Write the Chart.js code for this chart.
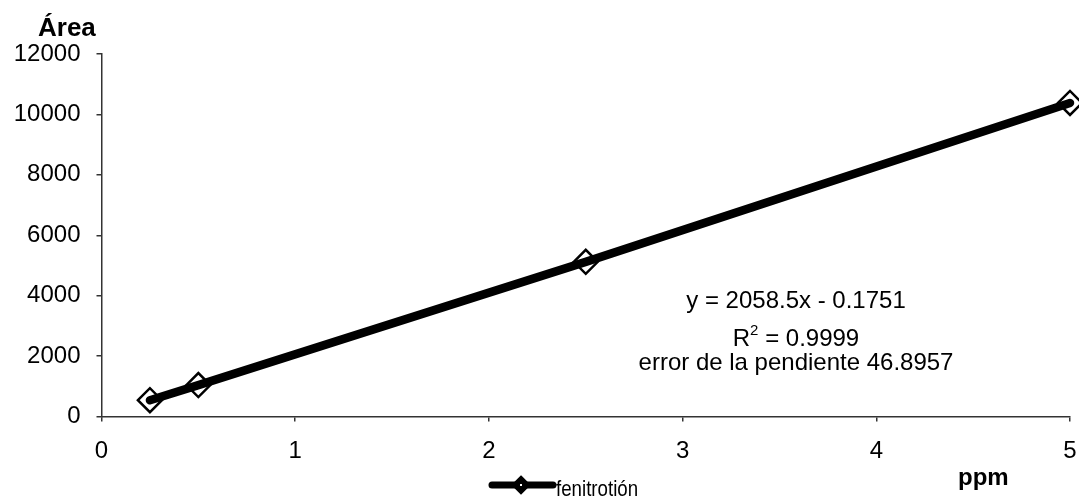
<!DOCTYPE html>
<html>
<head>
<meta charset="utf-8">
<script src="https://cdn.jsdelivr.net/npm/chart.js@4/dist/chart.umd.min.js"></script>
<style>
  html, body { margin: 0; padding: 0; background: #fff; }
  #wrap { width: 1079px; height: 501px; }
</style>
</head>
<body>
<div id="wrap"><canvas id="c" width="1079" height="501"></canvas></div>
<script>
// Calibration data: fenitrothion concentration (ppm) vs. peak area
const seriesName = 'fenitrotión';
const concentrations = [0.25, 0.5, 2.5, 5];
const areas = [540, 1040, 5120, 10380];

// Axis ranges and labels
const xTitle = 'ppm';
const yTitle = 'Área';
const xMin = 0, xMax = 5, xStep = 1;
const yMin = 0, yMax = 12000, yStep = 2000;

// Regression summary text
const fitEquation = 'y = 2058.5x - 0.1751';
const fitR2Value = ' = 0.9999';
const slopeErrorText = 'error de la pendiente 46.8957';

const FONT = "'Liberation Sans', Arial, sans-serif";

const points = concentrations.map((x, i) => ({ x: x, y: areas[i] }));

// Titles, regression box and legend drawn on top of the plot
const overlay = {
  id: 'overlay',
  afterDraw(chart) {
    const ctx = chart.ctx;
    ctx.save();
    ctx.fillStyle = '#000';
    ctx.textBaseline = 'alphabetic';

    // axis titles
    ctx.font = 'bold 26px ' + FONT;
    ctx.textAlign = 'left';
    ctx.fillText(yTitle, 38, 36);
    ctx.font = 'bold 24px ' + FONT;
    ctx.fillText(xTitle, 958, 485);

    // regression annotation
    const cx = 796;
    ctx.font = '24px ' + FONT;
    ctx.textAlign = 'center';
    ctx.fillText(fitEquation, cx, 308);
    ctx.fillText(slopeErrorText, cx, 370);
    // R² with a raised small 2
    ctx.textAlign = 'left';
    const wR = ctx.measureText('R').width;
    const wRest = ctx.measureText(fitR2Value).width;
    ctx.font = '15px ' + FONT;
    const wSup = ctx.measureText('2').width;
    const start = cx - (wR + wSup + wRest) / 2;
    ctx.font = '24px ' + FONT;
    ctx.fillText('R', start, 346);
    ctx.fillText(fitR2Value, start + wR + wSup, 346);
    ctx.font = '15px ' + FONT;
    ctx.fillText('2', start + wR, 335);

    // legend: thick line with a diamond marker
    const ly = 485;
    ctx.strokeStyle = '#000';
    ctx.lineCap = 'round';
    ctx.lineWidth = 7;
    ctx.beginPath();
    ctx.moveTo(492, ly);
    ctx.lineTo(553, ly);
    ctx.stroke();
    ctx.lineWidth = 2.5;
    ctx.fillStyle = '#000';
    ctx.beginPath();
    ctx.moveTo(521, ly - 8);
    ctx.lineTo(529, ly);
    ctx.lineTo(521, ly + 8);
    ctx.lineTo(513, ly);
    ctx.closePath();
    ctx.fill();
    ctx.stroke();
    ctx.fillStyle = '#fff';
    ctx.fillRect(520, ly - 1, 2, 2);
    // condensed legend label
    ctx.fillStyle = '#000';
    ctx.font = '22px ' + FONT;
    ctx.translate(556, 496);
    ctx.scale(0.85, 1);
    ctx.fillText(seriesName, 0, 0);

    ctx.restore();
  }
};

new Chart(document.getElementById('c'), {
  type: 'line',
  data: {
    datasets: [
      {
        label: seriesName,
        data: points,
        borderColor: '#000',
        borderWidth: 8.5,
        borderCapStyle: 'round',
        borderJoinStyle: 'round',
        pointRadius: 0,
        tension: 0,
        fill: false,
        order: 0,
        clip: false
      },
      {
        label: seriesName + ' (marcadores)',
        data: points,
        showLine: false,
        pointStyle: 'rectRot',
        pointRadius: 12,
        pointBorderWidth: 2.5,
        pointBorderColor: '#000',
        pointBackgroundColor: '#fff',
        order: 1,
        clip: false
      }
    ]
  },
  options: {
    responsive: false,
    animation: false,
    devicePixelRatio: 1,
    layout: { autoPadding: false, padding: { top: 54, right: 9, left: 0, bottom: 0 } },
    plugins: {
      legend: { display: false },
      tooltip: { enabled: false },
      title: { display: false }
    },
    scales: {
      x: {
        type: 'linear',
        min: xMin,
        max: xMax,
        afterFit(scale) {
          scale.height = 84.5;
          scale.paddingLeft = 0;
          scale.paddingRight = 0;
        },
        ticks: {
          stepSize: xStep,
          color: '#000',
          padding: 15,
          font: { family: FONT, size: 24 },
          callback: (v) => String(v)
        },
        grid: { drawOnChartArea: false, drawTicks: true, tickLength: 5, color: '#333', lineWidth: 1.5 },
        border: { display: true, color: '#333', width: 1.5 }
      },
      y: {
        type: 'linear',
        min: yMin,
        max: yMax,
        afterFit(scale) {
          scale.width = 101.5;
          scale.paddingTop = 0;
          scale.paddingBottom = 0;
        },
        ticks: {
          stepSize: yStep,
          color: '#000',
          padding: 16,
          font: { family: FONT, size: 24 },
          callback: (v) => String(v)
        },
        grid: { drawOnChartArea: false, drawTicks: true, tickLength: 5, color: '#333', lineWidth: 1.5 },
        border: { display: true, color: '#333', width: 1.5 }
      }
    }
  },
  plugins: [overlay]
});
</script>
</body>
</html>
